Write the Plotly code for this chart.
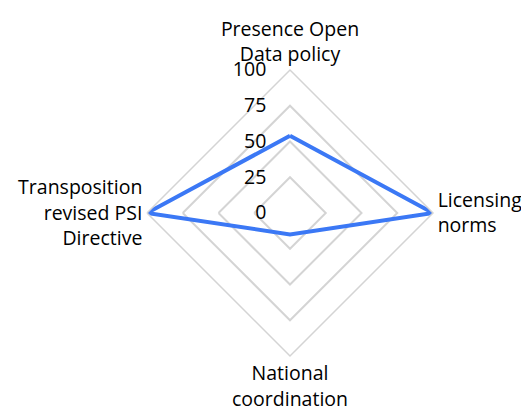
import plotly.graph_objects as go

categories = ["Presence Open<br>Data policy", "Licensing<br>norms", "National<br>coordination",
              "Transposition<br>revised PSI<br>Directive"]
values = [54, 100, 15, 100]
radial_ticks = [0, 25, 50, 75, 100]
radial_labels = ["0", "25", "50", "75", "100"]

W, H = 529, 414
cx, cy, R = 282, 205, 143
PAD = "\u00a0" * 4

fig = go.Figure()
fig.add_trace(go.Scatterpolar(
    r=values + values[:1],
    theta=categories + categories[:1],
    mode="lines",
    line=dict(color="#3B78F5", width=4),
    showlegend=False,
    hoverinfo="skip",
))

fig.update_layout(
    width=W, height=H,
    margin=dict(l=0, r=0, t=0, b=0),
    paper_bgcolor="white",
    font=dict(family="Open Sans", size=19.5, color="#000000"),
    polar=dict(
        domain=dict(x=[(cx - R) / W, (cx + R) / W], y=[(H - cy - R) / H, (H - cy + R) / H]),
        gridshape="linear",
        bgcolor="white",
        radialaxis=dict(
            range=[0, 100], tickvals=radial_ticks, ticktext=[t + PAD for t in radial_labels],
            angle=90, tickangle=90, side="counterclockwise", showline=False, ticks="",
            gridcolor="#D4D4D4", gridwidth=1.5,
            tickfont=dict(size=19.5),
        ),
        angularaxis=dict(
            rotation=90, direction="clockwise", showgrid=False, showline=True,
            linecolor="#D4D4D4", linewidth=1.5,
            ticks="", tickfont=dict(size=19.5),
        ),
    ),
)

fig.write_html("out.html")
